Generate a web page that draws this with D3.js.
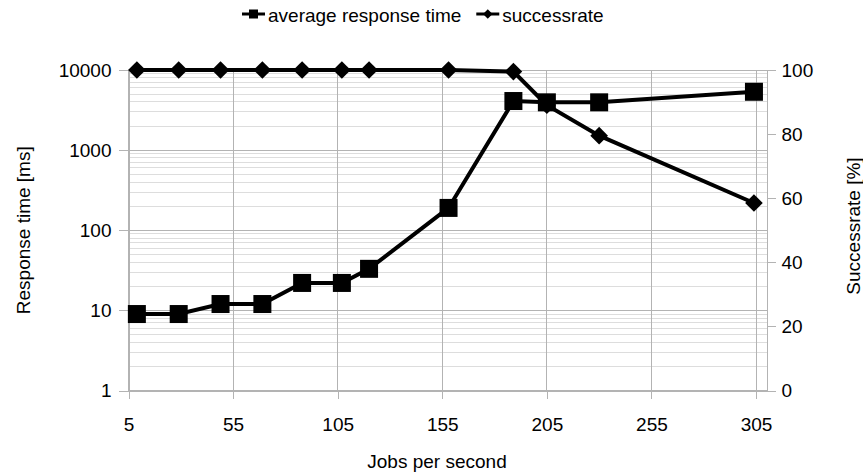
<!DOCTYPE html>
<meta charset="utf-8">
<style>
  body { margin: 0; background: #fff; }
  svg { display: block; font-family: "Liberation Sans", Arial, sans-serif; }
  .axis path, .axis line { stroke: #b3b3b3; shape-rendering: crispEdges; }
  .axis text { fill: #000; font-size: 19px; font-family: "Liberation Sans", Arial, sans-serif; }
  .grid line { shape-rendering: crispEdges; }
</style>

<div id="chart"></div>

<script src="https://cdnjs.cloudflare.com/ajax/libs/d3/7.8.5/d3.min.js"></script>
<script>

var jobs = [9, 29, 49, 69, 88, 107, 120, 158, 189, 205, 230, 304];
var responseTime = [9, 9, 12, 12, 22, 22, 33, 190, 4100, 3950, 3950, 5350];
var successRate = [100, 100, 100, 100, 100, 100, 100, 100, 99.5, 89, 79.5, 58.5];

var xTicks = [5, 55, 105, 155, 205, 255, 305];
var leftTicks = [1, 10, 100, 1000, 10000];
var rightTicks = [0, 20, 40, 60, 80, 100];
var seriesNames = ["average response time", "successrate"];

var margin = {top: 70, right: 96.5, bottom: 83.5, left: 128.5},
    width = 863 - margin.left - margin.right,
    height = 474 - margin.top - margin.bottom;

var svg = d3.select("#chart")
  .append("svg")
    .attr("width", 863)
    .attr("height", 474);

var g = svg.append("g")
    .attr("transform", "translate(" + margin.left + "," + margin.top + ")");

var x = d3.scaleLinear().domain([5, 310]).range([0, width]);
var y = d3.scaleLog().domain([1, 10000]).range([height, 0]);
var y2 = d3.scaleLinear().domain([0, 100]).range([height, 0]);

function py(v) { return Math.floor(y(v)) + 0.5; }

// minor grid (log 2..9 in each decade)
var minorTicks = y.ticks().filter(function(d) { return leftTicks.indexOf(d) < 0; });
g.append("g").attr("class", "grid")
  .selectAll("line")
  .data(minorTicks)
  .join("line")
    .attr("x1", 0).attr("x2", width)
    .attr("y1", py).attr("y2", py)
    .attr("stroke", "#dddddd");

// major grid
g.append("g").attr("class", "grid")
  .selectAll("line")
  .data(leftTicks)
  .join("line")
    .attr("x1", 0).attr("x2", width)
    .attr("y1", py).attr("y2", py)
    .attr("stroke", "#b3b3b3");

g.append("g").attr("class", "grid")
  .selectAll("line")
  .data(xTicks)
  .join("line")
    .attr("x1", function(d) { return Math.round(x(d)); })
    .attr("x2", function(d) { return Math.round(x(d)); })
    .attr("y1", 0).attr("y2", height)
    .attr("stroke", "#b3b3b3");

// axes
g.append("g")
    .attr("class", "axis")
    .call(d3.axisLeft(y).tickValues(leftTicks).tickFormat(d3.format("d"))
      .tickSize(10).tickSizeOuter(0).tickPadding(7));

g.append("g")
    .attr("class", "axis")
    .attr("transform", "translate(0," + height + ")")
    .call(d3.axisBottom(x).tickValues(xTicks).tickFormat(d3.format("d"))
      .tickSize(8).tickSizeOuter(0).tickPadding(19));

g.append("g")
    .attr("class", "axis")
    .attr("transform", "translate(" + width + ",0)")
    .call(d3.axisRight(y2).tickValues(rightTicks)
      .tickSize(9).tickSizeOuter(0).tickPadding(6));

// series lines
var idx = d3.range(jobs.length);

var lineResp = d3.line()
    .x(function(i) { return x(jobs[i]); })
    .y(function(i) { return y(responseTime[i]); });

var lineSucc = d3.line()
    .x(function(i) { return x(jobs[i]); })
    .y(function(i) { return y2(successRate[i]); });

g.append("path")
    .datum(idx)
    .attr("d", lineResp)
    .attr("fill", "none")
    .attr("stroke", "#000")
    .attr("stroke-width", 4);

g.selectAll("rect.resp")
  .data(idx)
  .join("rect")
    .attr("class", "resp")
    .attr("x", function(i) { return x(jobs[i]) - 9; })
    .attr("y", function(i) { return y(responseTime[i]) - 9; })
    .attr("width", 18)
    .attr("height", 18)
    .attr("fill", "#000");

g.append("path")
    .datum(idx)
    .attr("d", lineSucc)
    .attr("fill", "none")
    .attr("stroke", "#000")
    .attr("stroke-width", 4);

var diamond = d3.symbol().type(d3.symbolSquare).size(156);

g.selectAll("path.succ")
  .data(idx)
  .join("path")
    .attr("class", "succ")
    .attr("d", diamond)
    .attr("transform", function(i) {
      return "translate(" + x(jobs[i]) + "," + y2(successRate[i]) + ") rotate(45)";
    })
    .attr("fill", "#000");

// axis titles
svg.append("text")
    .attr("transform", "translate(23," + (margin.top + height / 2) + ") rotate(-90)")
    .attr("text-anchor", "middle")
    .attr("dy", "0.35em")
    .attr("font-size", 19)
    .text("Response time [ms]");

svg.append("text")
    .attr("transform", "translate(853,226) rotate(-90)")
    .attr("text-anchor", "middle")
    .attr("dy", "0.35em")
    .attr("font-size", 19)
    .text("Successrate [%]");

svg.append("text")
    .attr("x", 437)
    .attr("y", 468)
    .attr("text-anchor", "middle")
    .attr("font-size", 19)
    .text("Jobs per second");

// legend
var legend = svg.append("g").attr("transform", "translate(242,14)");
var lx = 0;
seriesNames.forEach(function(name, k) {
  var item = legend.append("g").attr("transform", "translate(" + lx + ",0)");
  item.append("line")
      .attr("x1", 0).attr("x2", 23)
      .attr("y1", 0).attr("y2", 0)
      .attr("stroke", "#000")
      .attr("stroke-width", 3);
  if (k == 0) {
    item.append("rect")
        .attr("x", 7).attr("y", -4.5)
        .attr("width", 9).attr("height", 9)
        .attr("fill", "#000");
  } else {
    item.append("path")
        .attr("d", d3.symbol().type(d3.symbolSquare).size(45))
        .attr("transform", "translate(11.5,0) rotate(45)")
        .attr("fill", "#000");
  }
  var t = item.append("text")
      .attr("x", 26)
      .attr("y", 8)
      .attr("font-size", 19)
      .text(name);
  lx += 26 + t.node().getComputedTextLength() + 15;
});

</script>
